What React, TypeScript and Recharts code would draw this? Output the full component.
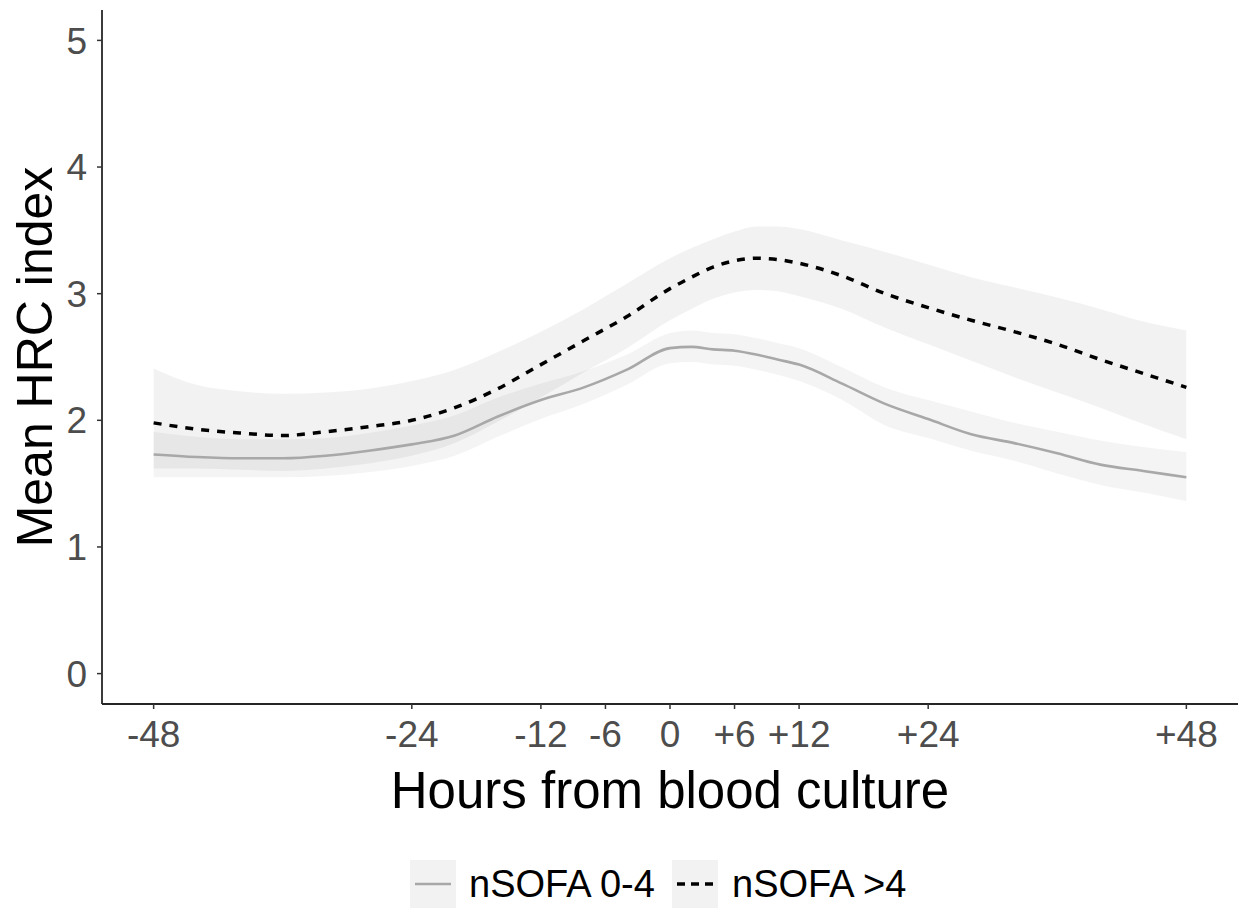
import React from "react";
import { ComposedChart, Area, Line, XAxis, YAxis, Legend } from "recharts";

const hours = [-48, -44, -40, -36, -32, -28, -24, -20, -16, -12, -8, -4, 0, 2, 4, 6, 8, 10, 12, 16, 20, 24, 28, 32, 36, 40, 44, 48];

const lowSofaMean = [1.73, 1.71, 1.7, 1.7, 1.72, 1.76, 1.81, 1.88, 2.03, 2.16, 2.26, 2.4, 2.57, 2.58, 2.56, 2.55, 2.52, 2.48, 2.44, 2.29, 2.13, 2.01, 1.89, 1.82, 1.74, 1.65, 1.6, 1.55];
const lowSofaLower = [1.55, 1.55, 1.55, 1.55, 1.56, 1.59, 1.64, 1.72, 1.87, 2.01, 2.13, 2.28, 2.45, 2.46, 2.44, 2.43, 2.4, 2.36, 2.31, 2.16, 1.96, 1.86, 1.76, 1.68, 1.58, 1.49, 1.43, 1.36];
const lowSofaUpper = [1.91, 1.87, 1.85, 1.85, 1.86, 1.9, 1.96, 2.04, 2.18, 2.29, 2.39, 2.52, 2.69, 2.71, 2.69, 2.68, 2.65, 2.61, 2.57, 2.42, 2.26, 2.16, 2.07, 1.98, 1.91, 1.84, 1.79, 1.75];

const highSofaMean = [1.98, 1.93, 1.9, 1.88, 1.91, 1.95, 2.0, 2.1, 2.25, 2.44, 2.63, 2.82, 3.04, 3.13, 3.21, 3.26, 3.28, 3.27, 3.24, 3.14, 3.0, 2.89, 2.79, 2.7, 2.6, 2.48, 2.37, 2.26];
const highSofaLower = [1.62, 1.62, 1.61, 1.6, 1.62, 1.66, 1.72, 1.82, 1.99, 2.18, 2.38, 2.57, 2.79, 2.88, 2.96, 3.01, 3.03, 3.02, 2.98, 2.88, 2.73, 2.6, 2.47, 2.34, 2.22, 2.1, 1.97, 1.85];
const highSofaUpper = [2.41, 2.28, 2.23, 2.21, 2.22, 2.25, 2.31, 2.4, 2.54, 2.7, 2.88, 3.08, 3.28, 3.36, 3.43, 3.49, 3.53, 3.53, 3.51, 3.42, 3.33, 3.23, 3.13, 3.05, 2.97, 2.88, 2.78, 2.71];

const xTicks = [-48, -24, -12, -6, 0, 6, 12, 24, 48];
const yTicks = [0, 1, 2, 3, 4, 5];
const seriesNames = ["nSOFA 0-4", "nSOFA >4"];

const data = hours.map((h, i) => ({
  hour: h,
  lowMean: lowSofaMean[i],
  lowBand: [lowSofaLower[i], lowSofaUpper[i]],
  highMean: highSofaMean[i],
  highBand: [highSofaLower[i], highSofaUpper[i]],
}));

const FONT = "'Liberation Sans', Arial, sans-serif";

const fmtX = (v: number) => (v > 0 ? `+${v}` : `${v}`);

const YTitle = (props: any) => {
  const vb = props.viewBox || {};
  const cx = 35;
  const cy = vb.y + vb.height / 2;
  return (
    <text
      x={cx}
      y={cy}
      transform={`rotate(-90, ${cx}, ${cy})`}
      textAnchor="middle"
      dominantBaseline="central"
      fontFamily={FONT}
      fontSize={50}
      fill="#000"
    >
      Mean HRC index
    </text>
  );
};

const XTitle = (props: any) => {
  const vb = props.viewBox || {};
  const cx = vb.x + vb.width / 2;
  return (
    <text x={cx} y={808} textAnchor="middle" fontFamily={FONT} fontSize={51} fill="#000">
      Hours from blood culture
    </text>
  );
};

const LegendContent = () => (
  <div style={{ position: "relative", width: 1244, height: 60, fontFamily: FONT }}>
    <div style={{ position: "absolute", left: 410, top: 10, width: 46, height: 48, background: "#F2F2F2" }}>
      <svg width={46} height={48}>
        <line x1={5} x2={41} y1={24} y2={24} stroke="#A8A8A8" strokeWidth={2.6} />
      </svg>
    </div>
    <div style={{ position: "absolute", left: 469, top: 10, height: 48, lineHeight: "48px", fontSize: 38, color: "#000", whiteSpace: "nowrap" }}>
      {seriesNames[0]}
    </div>
    <div style={{ position: "absolute", left: 672, top: 10, width: 46, height: 48, background: "#F2F2F2" }}>
      <svg width={46} height={48}>
        <line x1={5} x2={41} y1={24} y2={24} stroke="#000" strokeWidth={3.5} strokeDasharray="8 6" />
      </svg>
    </div>
    <div style={{ position: "absolute", left: 732, top: 10, height: 48, lineHeight: "48px", fontSize: 38, color: "#000", whiteSpace: "nowrap" }}>
      {seriesNames[1]}
    </div>
  </div>
);

export default function App() {
  return (
    <div style={{ position: "absolute", left: 0, top: 0, width: 1244, height: 910, background: "#fff" }}>
      <ComposedChart width={1244} height={910} data={data} margin={{ top: 10, right: 6, left: 0, bottom: 0 }}>
        <XAxis
          dataKey="hour"
          type="number"
          domain={[-52.8, 52.8]}
          ticks={xTicks}
          tickFormatter={fmtX}
          height={146}
          tickSize={5}
          tickMargin={12}
          axisLine={{ stroke: "#262626", strokeWidth: 1.8 }}
          tickLine={{ stroke: "#333", strokeWidth: 1.5 }}
          tick={{ fill: "#4D4D4D", fontSize: 37, fontFamily: FONT }}
          interval={0}
          allowDataOverflow
          label={<XTitle />}
        />
        <YAxis
          type="number"
          domain={[-0.24, 5.24]}
          ticks={yTicks}
          width={102}
          tickSize={5}
          tickMargin={10}
          axisLine={{ stroke: "#262626", strokeWidth: 1.8 }}
          tickLine={{ stroke: "#333", strokeWidth: 1.5 }}
          tick={{ fill: "#4D4D4D", fontSize: 37, fontFamily: FONT }}
          interval={0}
          allowDataOverflow
          label={<YTitle />}
        />
        <Legend verticalAlign="bottom" height={60} content={<LegendContent />} wrapperStyle={{ left: 0, width: 1244 }} />
        <Area
          dataKey="highBand"
          type="monotone"
          stroke="none"
          fill="#000"
          fillOpacity={0.05}
          isAnimationActive={false}
          legendType="none"
          activeDot={false}
          dot={false}
        />
        <Area
          dataKey="lowBand"
          type="monotone"
          stroke="none"
          fill="#000"
          fillOpacity={0.045}
          isAnimationActive={false}
          legendType="none"
          activeDot={false}
          dot={false}
        />
        <Line
          dataKey="lowMean"
          name={seriesNames[0]}
          type="monotone"
          stroke="#A8A8A8"
          strokeWidth={2.6}
          dot={false}
          activeDot={false}
          isAnimationActive={false}
        />
        <Line
          dataKey="highMean"
          name={seriesNames[1]}
          type="monotone"
          stroke="#000"
          strokeWidth={3.5}
          strokeDasharray="8 8"
          dot={false}
          activeDot={false}
          isAnimationActive={false}
        />
      </ComposedChart>
    </div>
  );
}
